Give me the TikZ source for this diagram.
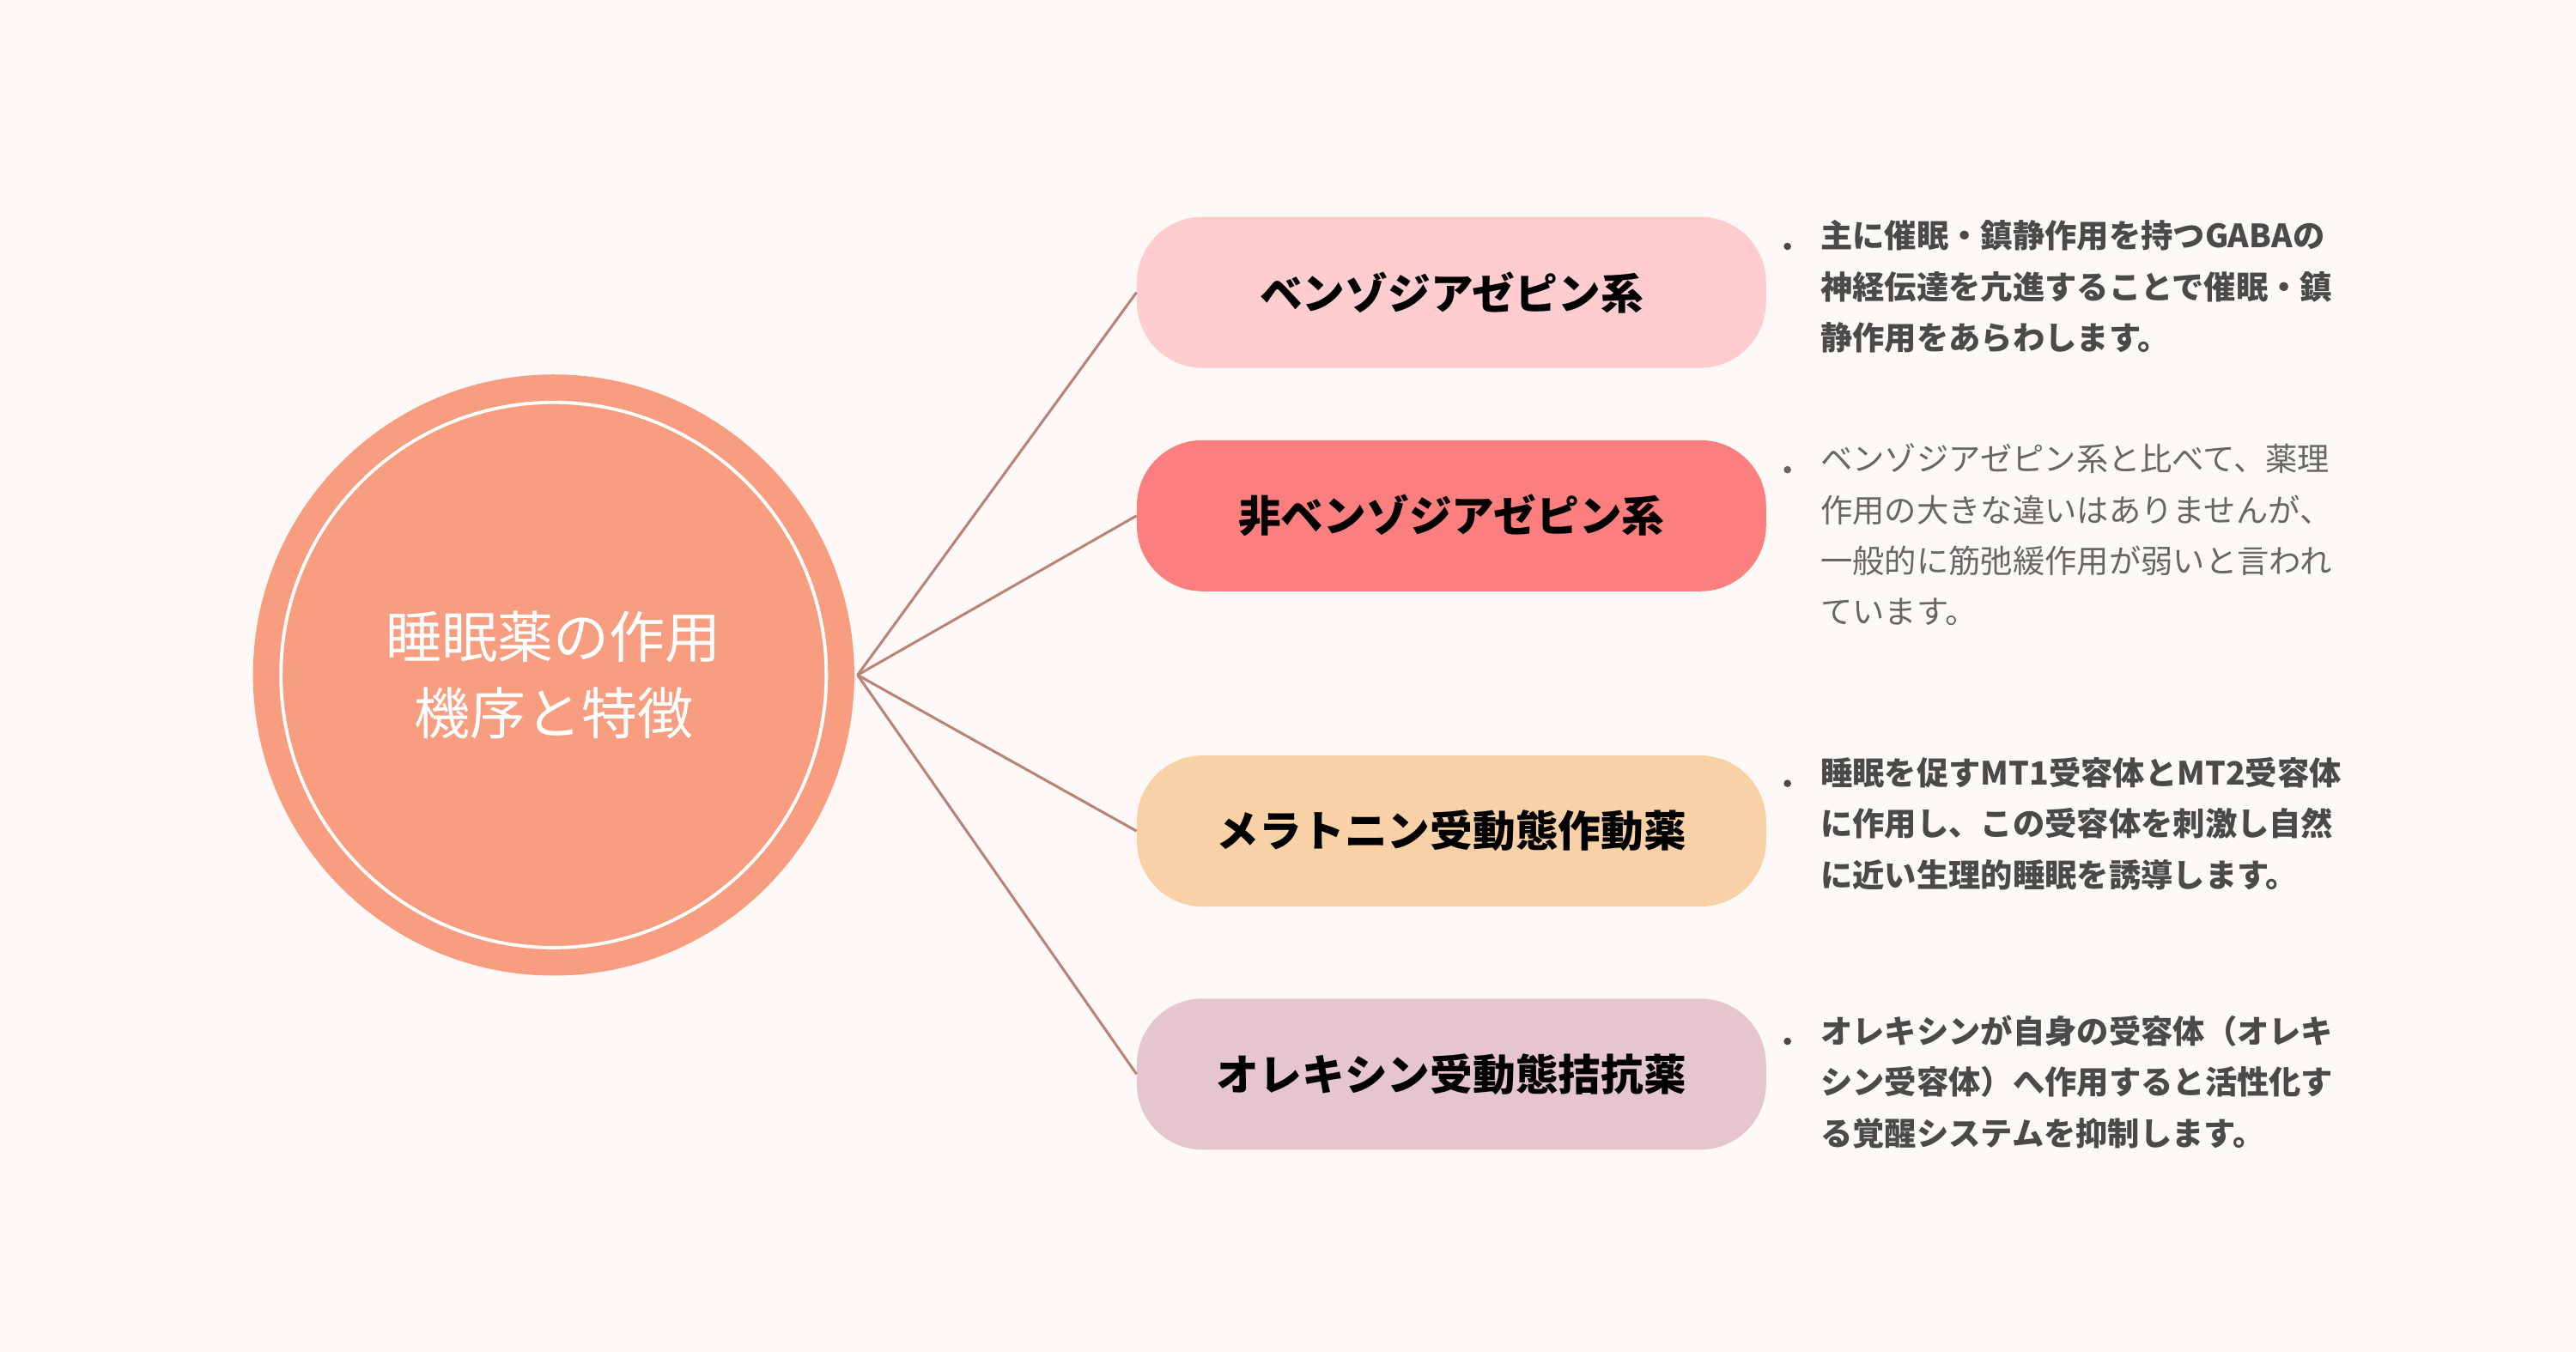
\documentclass[tikz,border=0pt]{standalone}
\usepackage{fontspec}
\setmainfont{Noto Sans CJK JP}
\definecolor{bg}{HTML}{FEF9F6}
\definecolor{circ}{HTML}{F99D80}
\definecolor{bA}{HTML}{FFCDD0}
\definecolor{bB}{HTML}{FA7F7E}
\definecolor{bC}{HTML}{F9D1A6}
\definecolor{bD}{HTML}{E6C6CE}
\definecolor{lnk}{HTML}{B98378}
\definecolor{txt}{HTML}{4A4A4A}
\definecolor{txtl}{HTML}{666666}
\begin{document}
\begin{tikzpicture}[x=1pt,y=-1pt,
  cat/.style={rounded corners=40pt,minimum width=383pt,minimum height=92pt,inner sep=0pt,font=\fontsize{26}{30}\selectfont\bfseries,text=black},
  desc/.style={anchor=north west,align=left,inner sep=0pt,font=\fontsize{19.5}{31}\selectfont,text=txt},
  bul/.style={circle,fill=txt,inner sep=0pt,minimum size=4.5pt},
  con/.style={draw=lnk,line width=1.6pt}]
\fill[bg] (0,0) rectangle (1568,823);
\node[circle,fill=circ,minimum size=366pt,inner sep=0pt] (c) at (337,411) {};
\node[circle,draw=white,line width=2pt,minimum size=332pt,inner sep=0pt,align=center,text=white,font=\fontsize{34}{46}\selectfont] (ci) at (337,411) {睡眠薬の作用\\機序と特徴};
\coordinate (hub) at (522,411);
\node[cat,fill=bA] (b1) at (883.5,178) {ベンゾジアゼピン系};
\node[cat,fill=bB] (b2) at (883.5,314) {非ベンゾジアゼピン系};
\node[cat,fill=bC] (b3) at (883.5,506) {メラトニン受動態作動薬};
\node[cat,fill=bD] (b4) at (883.5,654) {オレキシン受動態拮抗薬};
\foreach \b in {b1,b2,b3,b4} \draw[con] (hub) -- (\b.west);
\node[bul] (u1) at (1088,150) {};
\node[desc,font=\fontsize{19.5}{31}\selectfont\bfseries] (d1) at (1108,134) {主に催眠・鎮静作用を持つGABAの\\神経伝達を亢進することで催眠・鎮\\静作用をあらわします。};
\node[bul,fill=txtl] (u2) at (1088,286) {};
\node[desc,text=txtl] (d2) at (1108,270) {ベンゾジアゼピン系と比べて、薬理\\作用の大きな違いはありませんが、\\一般的に筋弛緩作用が弱いと言われ\\ています。};
\node[bul] (u3) at (1088,477) {};
\node[desc,font=\fontsize{19.5}{31}\selectfont\bfseries] (d3) at (1108,461) {睡眠を促すMT1受容体とMT2受容体\\に作用し、この受容体を刺激し自然\\に近い生理的睡眠を誘導します。};
\node[bul] (u4) at (1088,634) {};
\node[desc,font=\fontsize{19.5}{31}\selectfont\bfseries] (d4) at (1108,618) {オレキシンが自身の受容体（オレキ\\シン受容体）へ作用すると活性化す\\る覚醒システムを抑制します。};
\end{tikzpicture}
\end{document}
